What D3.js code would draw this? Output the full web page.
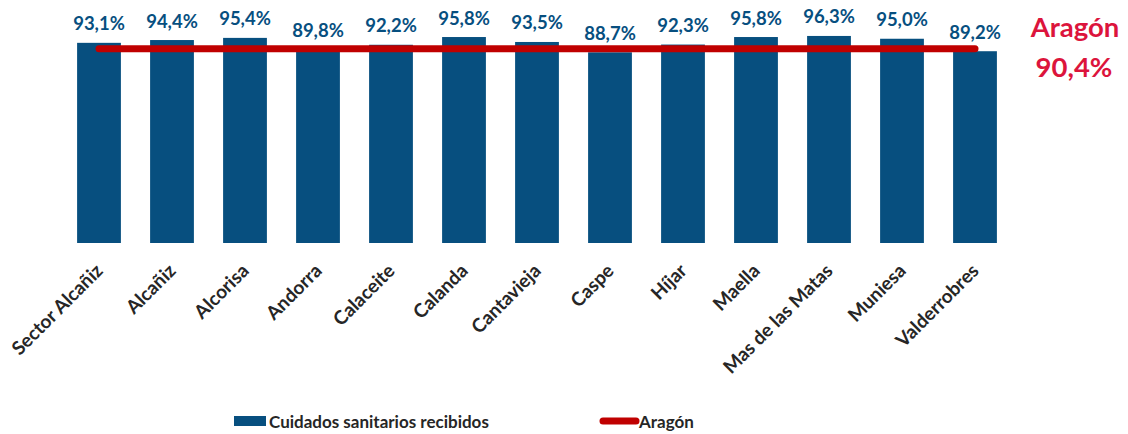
<!DOCTYPE html>
<html>
<head>
<meta charset="utf-8">
<script src="https://cdn.jsdelivr.net/npm/d3@7"></script>
<style>
  html, body { margin: 0; padding: 0; background: #fff; }
  svg { display: block; font-family: Lato, "Open Sans", sans-serif; }
</style>
</head>
<body>
<svg id="chart" width="1128" height="434"></svg>
<script>
// Health-care coverage by zone, with the regional (Aragón) average as a reference line
const categories = ["Sector Alcañiz", "Alcañiz", "Alcorisa", "Andorra", "Calaceite", "Calanda",
  "Cantavieja", "Caspe", "Híjar", "Maella", "Mas de las Matas", "Muniesa", "Valderrobres"];
const values = [93.1, 94.4, 95.4, 89.8, 92.2, 95.8, 93.5, 88.7, 92.3, 95.8, 96.3, 95.0, 89.2];
const aragonValue = 90.4;
const seriesNames = ["Cuidados sanitarios recibidos", "Aragón"];
const regionName = "Aragón";

const barColor = "#074F7F";
const lineColor = "#C00000";
const regionColor = "#DC143C";
const textColor = "#262626";

const fmt = v => v.toFixed(1).replace(".", ",") + "%";

const svg = d3.select("#chart");

const x = d3.scaleBand()
  .domain(categories)
  .range([62.5, 1011.5])
  .paddingInner(0.4)
  .paddingOuter(0.2);

const y = d3.scaleLinear().domain([0, 100]).range([243, 28]);

// bars
svg.append("g").selectAll("rect")
  .data(values)
  .join("rect")
  .attr("x", (d, i) => x(categories[i]))
  .attr("y", d => y(d))
  .attr("width", x.bandwidth())
  .attr("height", d => y(0) - y(d))
  .attr("fill", barColor);

// regional average line across the bar centres
const cx = c => x(c) + x.bandwidth() / 2;
svg.append("line")
  .attr("x1", cx(categories[0]))
  .attr("x2", cx(categories[categories.length - 1]))
  .attr("y1", y(aragonValue))
  .attr("y2", y(aragonValue))
  .attr("stroke", lineColor)
  .attr("stroke-width", 7)
  .attr("stroke-linecap", "round");

// value labels
svg.append("g").selectAll("text")
  .data(values)
  .join("text")
  .attr("x", (d, i) => cx(categories[i]))
  .attr("y", d => y(d) - 12.5)
  .attr("text-anchor", "middle")
  .attr("font-size", 18.5)
  .attr("font-weight", 700)
  .attr("fill", barColor)
  .text(d => fmt(d));

// category axis (rotated labels)
const xAxis = svg.append("g")
  .attr("transform", `translate(0,${y(0)})`)
  .call(d3.axisBottom(x).tickSize(0));
xAxis.select(".domain").remove();
xAxis.selectAll("text")
  .attr("font-family", "Lato, 'Open Sans', sans-serif")
  .attr("font-size", 19)
  .attr("font-weight", 700)
  .attr("fill", textColor)
  .attr("text-anchor", "end")
  .attr("dy", null)
  .attr("y", null)
  .attr("transform", "translate(5,29) rotate(-45)");

// regional value annotation
const note = svg.append("g")
  .attr("font-size", 27.5)
  .attr("font-weight", 700)
  .attr("fill", regionColor)
  .attr("text-anchor", "middle");
note.append("text").attr("x", 1075).attr("y", 37).text(regionName);
note.append("text").attr("x", 1074).attr("y", 77).text(fmt(aragonValue));

// legend
const legend = svg.append("g")
  .attr("font-size", 17)
  .attr("font-weight", 700)
  .attr("fill", textColor);
legend.append("rect")
  .attr("x", 234).attr("y", 416).attr("width", 32).attr("height", 10)
  .attr("fill", barColor);
legend.append("text").attr("x", 269).attr("y", 428).text(seriesNames[0]);
legend.append("line")
  .attr("x1", 603).attr("x2", 636).attr("y1", 421).attr("y2", 421)
  .attr("stroke", lineColor).attr("stroke-width", 7).attr("stroke-linecap", "round");
legend.append("text").attr("x", 639).attr("y", 428).text(seriesNames[1]);
</script>
</body>
</html>
